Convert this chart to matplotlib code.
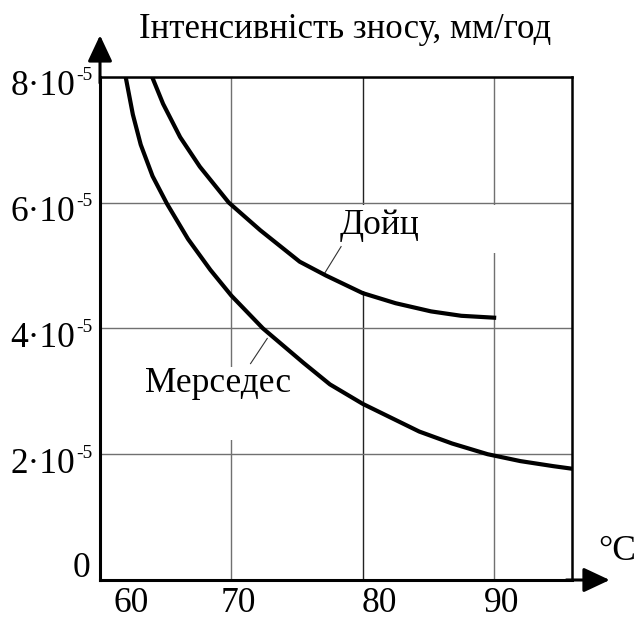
import numpy as np
import matplotlib
matplotlib.use("Agg")
import matplotlib.pyplot as plt
from matplotlib.patches import Rectangle
from matplotlib.transforms import ScaledTranslation

plt.rcParams['font.family'] = ['Liberation Serif', 'DejaVu Serif']

# температура, °C  /  інтенсивність зносу (x 1e-5 мм/год)
t_merc = [61.95, 62.5, 63.1, 64.0, 65.1, 66.7, 68.4, 70.0, 72.4, 75.5, 77.5, 80.0, 84.3, 86.8, 89.5, 92.0, 94.5, 95.9]
w_merc = [8.0, 7.40, 6.92, 6.42, 5.98, 5.42, 4.93, 4.52, 4.0, 3.45, 3.11, 2.8, 2.36, 2.17, 2.0, 1.89, 1.81, 1.77]

t_deutz = [63.96, 64.8, 66.1, 67.6, 69.8, 72.2, 75.2, 77.2, 80.0, 82.5, 85.2, 87.5, 90.0]
w_deutz = [8.0, 7.57, 7.04, 6.57, 6.0, 5.56, 5.06, 4.84, 4.56, 4.40, 4.27, 4.20, 4.17]

xticks = [60, 70, 80, 90]
ytick_vals = [2, 4, 6, 8]      # множник 1e-5
scale = 1e-5

fig = plt.figure(figsize=(6.37, 6.19), dpi=100)
ax = fig.add_axes([0.157, 0.063, 0.741, 0.813])

ax.set_xlim(60, 95.93)
ax.set_ylim(0, 8e-5)

ax.set_xticks(xticks)
ax.set_xticklabels([str(v) for v in xticks], fontsize=25.5)
ax.set_yticks([0] + [v * scale for v in ytick_vals])
ax.set_yticklabels([''] * 5)
ax.tick_params(length=0)
ax.tick_params(axis='x', pad=5)

# підписи по х трохи зсунуті вправо, як на оригіналі
offs = [31, 7, 17, 8]
for lab, dx in zip(ax.get_xticklabels(), offs):
    lab.set_transform(lab.get_transform() + ScaledTranslation(dx / 100, 0, fig.dpi_scale_trans))

# підписи осі y вручну: "8·10" + верхній індекс "-5"
for v in ytick_vals:
    ax.text(58.14, (v - 0.294) * scale, '%d·10' % v, fontsize=25.5, ha='right', va='baseline', clip_on=False)
    ax.text(58.21, (v + 0.151) * scale, '-5', fontsize=14, ha='left', va='top', clip_on=False)
ax.text(59.28, 0.19e-5, '0', fontsize=25.5, ha='right', va='center', clip_on=False)

ax.grid(True, color='#707070', lw=1.0, zorder=1)
ax.get_xgridlines()[2].set_color('#222222')

for s in ['left', 'bottom']:
    ax.spines[s].set_linewidth(2.2)
for s in ['top', 'right']:
    ax.spines[s].set_linewidth(1.8)

# білі розриви сітки біля підписів
ax.add_patch(Rectangle((79.5, 5.2e-5), 11.0, 0.76e-5, color='white', zorder=2, lw=0))
ax.add_patch(Rectangle((79.5, 4.6e-5), 1.2, 0.7e-5, color='white', zorder=2, lw=0))
ax.add_patch(Rectangle((69.5, 2.22e-5), 1.0, 1.16e-5, color='white', zorder=2, lw=0))

ax.plot(t_merc, np.array(w_merc) * scale, color='black', lw=3, solid_joinstyle='round', zorder=4)
ax.plot(t_deutz, np.array(w_deutz) * scale, color='black', lw=3, solid_joinstyle='round', zorder=4)

ax.text(81.3, 5.64e-5, 'Дойц', fontsize=25.5, ha='center', va='center', zorder=3)
ax.text(69.0, 3.13e-5, 'Мерседес', fontsize=25.5, ha='center', va='center', zorder=3)
ax.plot([78.35, 77.08], [5.30e-5, 4.87e-5], color='#333333', lw=0.8, zorder=3)
ax.plot([71.46, 72.73], [3.44e-5, 3.84e-5], color='#333333', lw=0.8, zorder=3)

# стрілки осей
arr = dict(arrowstyle='-|>,head_length=1.6,head_width=0.75', color='black', lw=2.2,
           shrinkA=0, shrinkB=0)
ax.annotate('', xy=(60, 8.66e-5), xytext=(60, 7.9e-5), annotation_clip=False, arrowprops=arr)
ax.annotate('', xy=(98.8, 0), xytext=(95.5, 0), annotation_clip=False, arrowprops=arr)

ax.text(62.93, 8.61e-5, 'Інтенсивність зносу, мм/год', fontsize=25, ha='left', va='baseline', clip_on=False)
ax.text(99.35, 0.46e-5, '°C', fontsize=25.5, ha='center', va='center', clip_on=False)

fig.savefig('out.png', dpi=100)
